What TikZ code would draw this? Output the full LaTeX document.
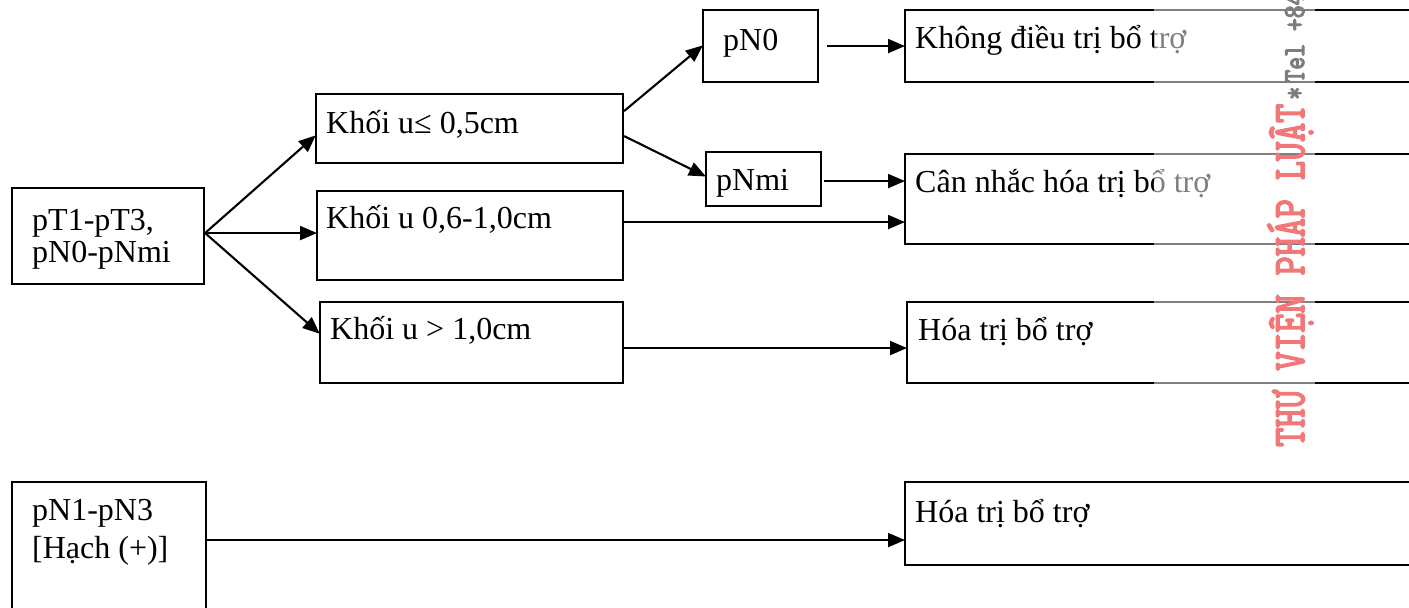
\documentclass[tikz,border=0pt]{standalone}
\usepackage{fontspec}
\setmainfont{Liberation Serif}
\newfontfamily\wmfont{Latin Modern Mono}[FakeBold=4]
\usetikzlibrary{arrows.meta}
\definecolor{wmred}{RGB}{240,120,120}
\definecolor{wmgray}{RGB}{125,125,125}
\tikzset{
  box/.style={draw=black, line width=2.1pt, anchor=north west, inner sep=0pt, fill=none},
  txt/.style={anchor=base west, inner sep=0pt, font=\fontsize{32}{32}\selectfont},
  arr/.style={line width=2.1pt, -{Triangle[length=17pt,width=14pt]}, shorten >=-1pt}
}
\begin{document}
\begin{tikzpicture}[x=1pt,y=-1pt]
\useasboundingbox (0,0) rectangle (1409,608);
\clip (0,0) rectangle (1409,608);
\fill[white] (0,0) rectangle (1409,608);
% boxes
\node[box, minimum width=192pt, minimum height=96pt] (pT) at (11,187) {};
\node[box, minimum width=307pt, minimum height=69pt] (A) at (315,93) {};
\node[box, minimum width=306pt, minimum height=89pt] (B) at (316,190) {};
\node[box, minimum width=303pt, minimum height=81pt] (C) at (319,301) {};
\node[box, minimum width=115pt, minimum height=72pt] (pN0) at (702,9) {};
\node[box, minimum width=115pt, minimum height=54pt] (pNmi) at (705,151) {};
\node[box, minimum width=540pt, minimum height=72pt] (K) at (904,9) {};
\node[box, minimum width=540pt, minimum height=90pt] (Can) at (904,153) {};
\node[box, minimum width=540pt, minimum height=81pt] (H1) at (906,301) {};
\node[box, minimum width=194pt, minimum height=140pt] (pN1) at (11,481) {};
\node[box, minimum width=540pt, minimum height=83pt] (H2) at (904,481) {};
% texts
\node[txt] (tpT1) at (32,230) {pT1-pT3,};
\node[txt] (tpT2) at (32,262) {pN0-pNmi};
\node[txt] (tA) at (326,133) {Khối u≤ 0,5cm};
\node[txt] (tB) at (326,228) {Khối u 0,6-1,0cm};
\node[txt] (tC) at (330,339) {Khối u > 1,0cm};
\node[txt] (tpN0) at (723,50) {pN0};
\node[txt] (tpNmi) at (716,190) {pNmi};
\node[txt] (tK) at (915,48) {Không điều trị bổ trợ};
\node[txt] (tCan) at (915,192) {Cân nhắc hóa trị bổ trợ};
\node[txt] (tH1) at (918,340) {Hóa trị bổ trợ};
\node[txt] (tpN1a) at (32,520) {pN1-pN3};
\node[txt] (tpN1b) at (32,558) {[Hạch (+)]};
\node[txt] (tH2) at (915,522) {Hóa trị bổ trợ};
% connectors
\draw[arr] ([yshift=3pt]pT.east) -- ([yshift=-7.5pt]A.west);
\draw[arr] ([yshift=3pt]pT.east) -- ([yshift=2.5pt]B.west);
\draw[arr] ([yshift=3pt]pT.east) -- ([yshift=9.5pt]C.west);
\draw[arr] ([yshift=17.5pt]A.east) -- (pN0.west);
\draw[arr] ([yshift=-7.5pt]A.east) -- ([yshift=3pt]pNmi.west);
\draw[arr] ([xshift=8pt]pN0.east) -- (K.west);
\draw[arr] ([xshift=2pt,yshift=18pt]Can.west -| pNmi.east) -- ([yshift=18pt]Can.west);
\draw[arr] ([yshift=13.5pt]B.east) -- ([yshift=-23pt]Can.west);
\draw[arr] ([yshift=-5.5pt]C.east) -- ([yshift=-5.5pt]H1.west);
\draw[arr] ([yshift=12pt]pN1.east) -- ([yshift=-16.5pt]H2.west);
% watermark band and text
\fill[white, opacity=0.5] (1154,0) rectangle (1315,458);
\node[anchor=base west, inner sep=0pt, rotate=90] (wm) at (1304,447)
  {\scalebox{1}[1.22]{\wmfont\fontsize{37}{38}\selectfont\textcolor{wmred}{THƯ VIỆN PHÁP LUẬT}\textcolor{wmgray}{\fontsize{25}{25}\selectfont\,*\,Tel +84}}};
\end{tikzpicture}
\end{document}
